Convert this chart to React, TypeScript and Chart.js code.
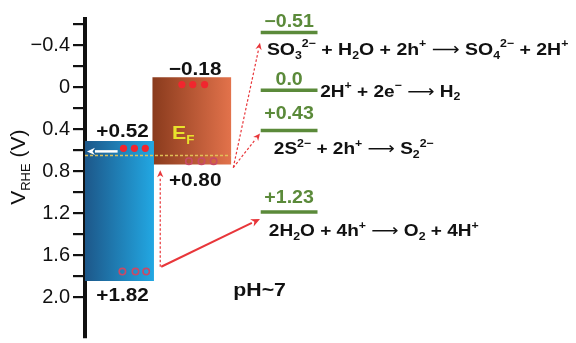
import React, { useEffect, useRef } from 'react';
import { Chart, registerables } from 'chart.js';

Chart.register(...registerables);

// ---------- data ----------
// y axis (potential, V vs RHE)
const yTickValues = [-0.6, -0.4, -0.2, 0, 0.2, 0.4, 0.6, 0.8, 1.0, 1.2, 1.4, 1.6, 1.8, 2.0];
const yTickLabels = ['', '−0.4', '', '0', '', '0.4', '', '0.8', '', '1.2', '', '1.6', '', '2.0'];

// two semiconductors: band edges as drawn (CB top, VB bottom)
const cbEdge = [0.515, -0.092];
const vbEdge = [1.842, 0.733];
const cbLabels = ['+0.52', '−0.18'];
const vbLabels = ['+1.82', '+0.80'];
const fermiLevel = 0.65;

// carriers (x in layout units, potential in V)
const electronX = [0.794, 1.018, 1.242, 1.996, 2.22, 2.464];
const electronV = [0.581, 0.581, 0.581, -0.026, -0.026, -0.026];
const holeX = [0.77, 1.04, 1.26, 2.14, 2.40, 2.65];
const holeV = [1.755, 1.755, 1.755, 0.704, 0.704, 0.704];

// redox levels
const redoxV = [-0.523, 0.028, 0.41, 1.188];
const redoxLabels = ['−0.51', '0.0', '+0.43', '+1.23'];
const redoxEquations = [
  'SO_{3}^{2−} + H_{2}O + 2h^{+} → SO_{4}^{2−} + 2H^{+}',
  '2H^{+} + 2e^{−} → H_{2}',
  '2S^{2−} + 2h^{+} → S_{2}^{2−}',
  '2H_{2}O + 4h^{+} → O_{2} + 4H^{+}',
];

// ---------- layout / style ----------
const X_MAX = 10;
const boxCenter = [0.703, 2.2];
const boxLeft = [0, 1.405];
const boxRight = [1.405, 2.994];
const boxWidthPx = [69, 78];
const boxColors = [
  ['#1d5789', '#22a7e2'],
  ['#8a3b1d', '#e2724b'],
];
const redoxX0 = 3.62;
const redoxX1 = 4.79;
const redoxLabelV = [-0.575, -0.026, 0.297, 1.102];
const eqX = [3.747, 4.847, 3.89, 3.788];
const eqV = [-0.31, 0.088, 0.638, 1.415];
const eqSize = [17.4, 17, 17, 17];
const FF = '"Liberation Sans", Arial, sans-serif';
const GREEN = '#5b8a3a';
const RED = '#e8363a';
const STRETCH = 1.12;

type Arrow = { x0: number; v0: number; x1: number; v1: number; color: string; w: number; dash: number[]; head: number };
const arrows: Arrow[] = [
  { x0: 3.055, v0: 0.764, x1: 3.605, v1: -0.424, color: RED, w: 1.2, dash: [2.5, 2], head: 7 },
  { x0: 3.055, v0: 0.764, x1: 3.605, v1: 0.44, color: RED, w: 1.2, dash: [2.5, 2], head: 7 },
  { x0: 1.55, v0: 1.709, x1: 1.55, v1: 0.79, color: RED, w: 1.2, dash: [2.5, 2], head: 7 },
  { x0: 1.57, v0: 1.709, x1: 3.605, v1: 1.254, color: RED, w: 2, dash: [], head: 9 },
  { x0: 0.672, v0: 0.61, x1: 0.04, v1: 0.61, color: '#ffffff', w: 2.5, dash: [], head: 8 },
];

// ---------- rich text ----------
type Part = { t: string; k: string };
function parseRich(s: string): Part[] {
  const parts: Part[] = [];
  const re = /_\{([^}]*)\}|\^\{([^}]*)\}|(→)/g;
  let last = 0;
  let m: RegExpExecArray | null;
  while ((m = re.exec(s))) {
    if (m.index > last) parts.push({ t: s.slice(last, m.index), k: 'n' });
    if (m[1] !== undefined) parts.push({ t: m[1], k: 'sub' });
    else if (m[2] !== undefined) parts.push({ t: m[2], k: 'sup' });
    else parts.push({ t: '⟶', k: 'arr' });
    last = re.lastIndex;
  }
  if (last < s.length) parts.push({ t: s.slice(last), k: 'n' });
  return parts;
}

function drawRich(
  ctx: CanvasRenderingContext2D, s: string, x: number, y: number,
  size: number, color: string, weight: string, align: 'left' | 'center' = 'left', sx = STRETCH
) {
  const parts = parseRich(s);
  const fontFor = (k: string) =>
    k === 'sub' || k === 'sup' ? `${weight} ${Math.round(size * 0.62)}px ${FF}`
      : k === 'arr' ? `${size}px "DejaVu Sans"`
        : `${weight} ${size}px ${FF}`;
  const widths = parts.map((p) => { ctx.font = fontFor(p.k); return ctx.measureText(p.t).width; });
  const total = widths.reduce((a, b) => a + b, 0);
  ctx.save();
  ctx.translate(x, y);
  ctx.scale(sx, 1);
  let cx = align === 'center' ? -total / 2 : 0;
  ctx.fillStyle = color;
  ctx.textBaseline = 'alphabetic';
  ctx.textAlign = 'left';
  parts.forEach((p, i) => {
    ctx.font = fontFor(p.k);
    const dy = p.k === 'sub' ? size * 0.22 : p.k === 'sup' ? -size * 0.42 : 0;
    ctx.fillText(p.t, cx, dy);
    cx += widths[i];
  });
  ctx.restore();
}

function drawArrow(ctx: CanvasRenderingContext2D, x0: number, y0: number, x1: number, y1: number, a: Arrow) {
  const ang = Math.atan2(y1 - y0, x1 - x0);
  const bx = x1 - a.head * Math.cos(ang);
  const by = y1 - a.head * Math.sin(ang);
  ctx.strokeStyle = a.color;
  ctx.lineWidth = a.w;
  ctx.setLineDash(a.dash);
  ctx.beginPath();
  ctx.moveTo(x0, y0);
  ctx.lineTo(bx, by);
  ctx.stroke();
  ctx.setLineDash([]);
  ctx.fillStyle = a.color;
  const hw = a.head * 0.45;
  ctx.beginPath();
  ctx.moveTo(x1, y1);
  ctx.lineTo(bx + hw * Math.sin(ang), by - hw * Math.cos(ang));
  ctx.lineTo(x1 - a.head * 0.7 * Math.cos(ang), y1 - a.head * 0.7 * Math.sin(ang));
  ctx.lineTo(bx - hw * Math.sin(ang), by + hw * Math.cos(ang));
  ctx.closePath();
  ctx.fill();
}

const annotPlugin = {
  id: 'annot',
  afterDatasetsDraw(chart: any) {
    const ctx: CanvasRenderingContext2D = chart.ctx;
    const xs = chart.scales.x;
    const ys = chart.scales.y;
    const px = (u: number) => xs.getPixelForValue(u);
    const py = (v: number) => ys.getPixelForValue(v);
    ctx.save();
    arrows.forEach((a) => drawArrow(ctx, px(a.x0), py(a.v0), px(a.x1), py(a.v1), a));

    // band edge labels
    const cbLabelV = [0.477, -0.12];
    const vbLabelV = [2.031, 0.941];
    const labelX = [0.774, 2.27];
    cbLabels.forEach((t, i) => drawRich(ctx, t, px(labelX[i]), py(cbLabelV[i]), 18.5, '#111', 'bold', 'center'));
    vbLabels.forEach((t, i) => drawRich(ctx, t, px(labelX[i]), py(vbLabelV[i]), 18.5, '#111', 'bold', 'center'));

    // Fermi level label
    drawRich(ctx, 'E_{F}', px(1.792), py(0.496), 19, '#e8e22c', 'bold');

    // redox labels and equations
    const cxl = (px(redoxX0) + px(redoxX1)) / 2;
    redoxLabels.forEach((t, i) => drawRich(ctx, t, cxl, py(redoxLabelV[i]), 17.5, GREEN, 'bold', 'center'));
    redoxEquations.forEach((t, i) => drawRich(ctx, t, px(eqX[i]), py(eqV[i]), eqSize[i], '#111', 'bold'));
    drawRich(ctx, 'pH~7', px(3.055), py(1.984), 19, '#111', 'bold');

    // y axis title
    ctx.save();
    ctx.translate(chart.chartArea.left - 60, py(0.761));
    ctx.rotate(-Math.PI / 2);
    drawRich(ctx, 'V_{RHE} (V)', 0, 0, 21, '#111', 'normal', 'center', 1);
    ctx.restore();
    ctx.restore();
  },
};

export default function App() {
  const ref = useRef<HTMLCanvasElement>(null);
  useEffect(() => {
    const canvas = ref.current!;
    const grad = (i: number) => (c: any) => {
      const ch = c.chart;
      if (!ch.chartArea) return boxColors[i][1];
      const cx = ch.scales.x.getPixelForValue(boxCenter[i]);
      const g = ch.ctx.createLinearGradient(cx - boxWidthPx[i] / 2, 0, cx + boxWidthPx[i] / 2, 0);
      g.addColorStop(0, boxColors[i][0]);
      g.addColorStop(1, boxColors[i][1]);
      return g;
    };
    const datasets: any[] = [];
    boxCenter.forEach((c, i) => {
      datasets.push({
        type: 'bar',
        data: [{ x: c, y: [cbEdge[i], vbEdge[i]] }],
        barThickness: boxWidthPx[i],
        grouped: false,
        backgroundColor: grad(i),
        borderWidth: 0,
        order: 5,
      });
    });
    datasets.push({
      type: 'line',
      data: [{ x: boxLeft[0], y: fermiLevel }, { x: boxRight[1], y: fermiLevel }],
      borderColor: 'rgba(228,196,90,0.95)',
      borderWidth: 1.5,
      borderDash: [3, 2],
      pointRadius: 0,
      order: 3,
    });
    redoxV.forEach((v) => {
      datasets.push({
        type: 'line',
        data: [{ x: redoxX0, y: v }, { x: redoxX1, y: v }],
        borderColor: GREEN,
        borderWidth: 3.5,
        pointRadius: 0,
        order: 3,
      });
    });
    datasets.push({
      type: 'scatter',
      data: electronX.map((x, i) => ({ x, y: electronV[i] })),
      pointRadius: 3.6,
      backgroundColor: '#f1262e',
      borderWidth: 0,
      order: 1,
    });
    datasets.push({
      type: 'scatter',
      data: holeX.map((x, i) => ({ x, y: holeV[i] })),
      pointRadius: 3.2,
      backgroundColor: 'rgba(0,0,0,0)',
      borderColor: '#c84a66',
      borderWidth: 1.6,
      order: 1,
    });

    const chart = new Chart(canvas, {
      type: 'bar',
      data: { datasets },
      options: {
        animation: false,
        responsive: false,
        devicePixelRatio: 1,
        layout: { padding: { top: 19, bottom: 4, left: 0, right: 0 } },
        plugins: { legend: { display: false }, tooltip: { enabled: false } },
        scales: {
          x: { type: 'linear', display: false, min: 0, max: X_MAX, offset: false },
          y: {
            type: 'linear',
            reverse: true,
            min: -0.651,
            max: 2.382,
            afterFit: (s: any) => { s.width = 85; s.paddingTop = 0; s.paddingBottom = 0; },
            afterBuildTicks: (s: any) => { s.ticks = yTickValues.map((value) => ({ value })); },
            ticks: {
              autoSkip: false,
              padding: 3,
              color: '#111',
              font: { family: FF, size: 20 },
              callback: (_v: any, i: number) => yTickLabels[i],
            },
            grid: { drawOnChartArea: false, drawTicks: true, tickLength: 12, color: '#111', lineWidth: 2.2 },
            border: { display: true, width: 4, color: '#111' },
          },
        },
      } as any,
      plugins: [annotPlugin],
    });
    return () => chart.destroy();
  }, []);
  return (
    <div style={{ position: 'fixed', left: 0, top: 0, width: 576, height: 343, background: '#fff' }}>
      <canvas ref={ref} width={576} height={343} style={{ display: 'block' }} />
    </div>
  );
}
